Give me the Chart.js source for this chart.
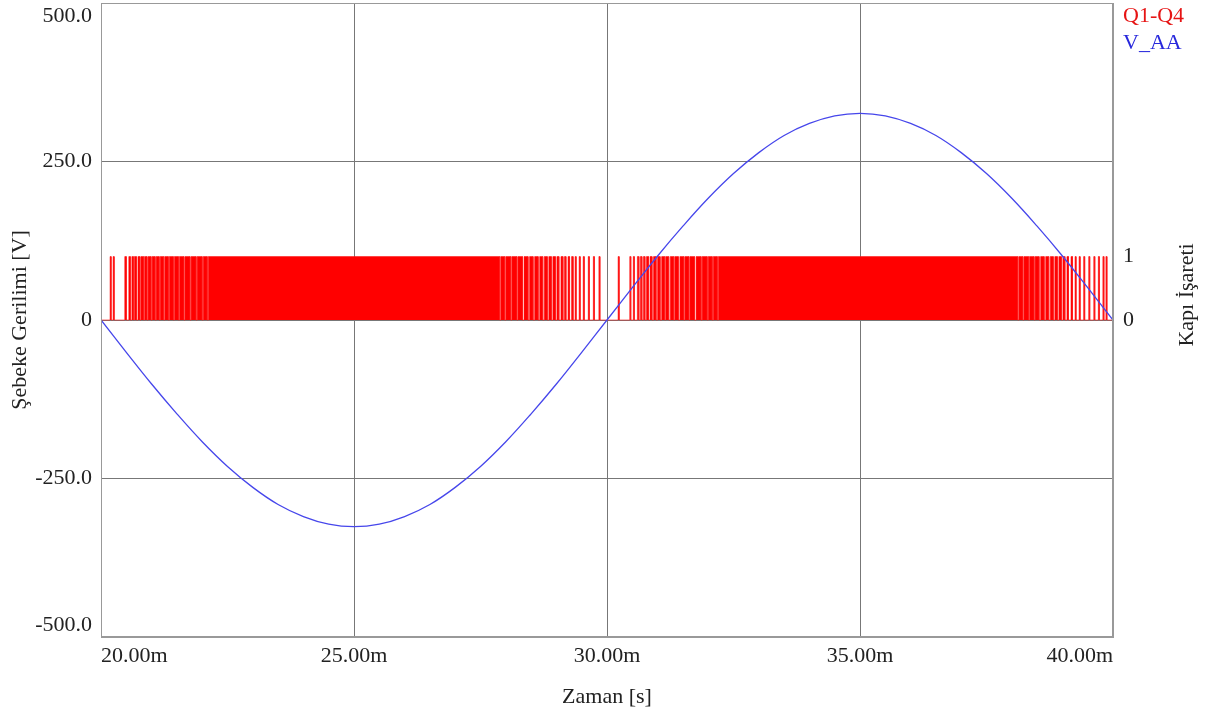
<!DOCTYPE html>
<html>
<head>
<meta charset="utf-8">
<script src="https://cdn.jsdelivr.net/npm/chart.js@4.4.1/dist/chart.umd.min.js"></script>
<style>
html, body { margin: 0; padding: 0; background: #fff; }
#wrap { width: 1215px; height: 722px; position: relative; }
</style>
</head>
<body>
<div id="wrap"><canvas id="myChart"></canvas></div>
<script>
// time axis in ms
const timeMs = [20, 20.5, 21, 21.5, 22, 22.5, 23, 23.5, 24, 24.5, 25, 25.5, 26, 26.5, 27, 27.5, 28, 28.5, 29, 29.5,
                30, 30.5, 31, 31.5, 32, 32.5, 33, 33.5, 34, 34.5, 35, 35.5, 36, 36.5, 37, 37.5, 38, 38.5, 39, 39.5, 40];
// V_AA
const vAA = [0, -51, -101, -148, -192, -231, -264, -291, -310, -322, -326, -322, -310, -291, -264, -231, -192, -148, -101, -51,
             0, 51, 101, 148, 192, 231, 264, 291, 310, 322, 326, 322, 310, 291, 264, 231, 192, 148, 101, 51, 0];

// Q1-Q4 gate pulses (on / off times in ms)
const q14Start = [20.18, 20.24, 20.47, 20.55, 20.61, 20.66, 20.73, 20.79, 20.86, 20.93, 21.01, 21.09, 21.17, 21.26, 21.35,
                  21.45, 21.55, 21.66, 21.78, 21.90, 22.02, 22.12, 27.90, 28.00, 28.12, 28.24, 28.36, 28.47, 28.57, 28.67,
                  28.76, 28.85, 28.93, 29.01, 29.09, 29.16, 29.23, 29.30, 29.37, 29.45, 29.53, 29.63, 29.73, 29.84,
                  30.22, 30.45, 30.52, 30.60, 30.66, 30.72, 30.78, 30.85, 30.92, 31.00, 31.08, 31.16, 31.25, 31.34, 31.44,
                  31.54, 31.64, 31.76, 31.88, 32.00, 32.10, 32.20, 38.14, 38.24, 38.35, 38.46, 38.57, 38.67, 38.76, 38.85,
                  38.93, 39.01, 39.09, 39.17, 39.25, 39.33, 39.42, 39.52, 39.62, 39.71, 39.80, 39.86];
const q14End =   [20.20, 20.26, 20.50, 20.58, 20.64, 20.70, 20.77, 20.84, 20.91, 20.99, 21.07, 21.15, 21.24, 21.33, 21.43,
                  21.53, 21.64, 21.76, 21.88, 22.00, 22.10, 27.88, 27.98, 28.10, 28.22, 28.33, 28.44, 28.54, 28.64, 28.73,
                  28.82, 28.90, 28.98, 29.05, 29.13, 29.19, 29.26, 29.33, 29.39, 29.47, 29.55, 29.65, 29.75, 29.86,
                  30.24, 30.47, 30.54, 30.63, 30.69, 30.75, 30.82, 30.89, 30.97, 31.05, 31.14, 31.22, 31.32, 31.41, 31.52,
                  31.62, 31.73, 31.86, 31.98, 32.08, 32.18, 38.12, 38.22, 38.33, 38.44, 38.54, 38.64, 38.73, 38.82, 38.90,
                  38.98, 39.05, 39.12, 39.20, 39.27, 39.35, 39.44, 39.54, 39.64, 39.73, 39.82, 39.88];

const leftTicks = [-500, -250, 0, 250, 500];
const leftLabels = ['-500.0', '-250.0', '0', '250.0', '500.0'];
const rightTicks = [0, 1];

const FONT = '"Liberation Serif", "Times New Roman", serif';
const FSIZE = 22;
const TXT = '#222';

// build the step trace for the gate signal
const q14Points = [{ x: 20, y: 0 }];
for (let i = 0; i < q14Start.length; i++) {
     q14Points.push({ x: q14Start[i], y: 0 }, { x: q14Start[i], y: 1 },
                    { x: q14End[i], y: 1 }, { x: q14End[i], y: 0 });
}
q14Points.push({ x: 40, y: 0 });

const vPoints = timeMs.map((t, i) => ({ x: t, y: vAA[i] }));

const extraText = {
     id: 'extraText',
     afterDraw(chart) {
          const ctx = chart.ctx;
          const area = chart.chartArea;
          const yScale = chart.scales.y;
          ctx.save();
          // plot frame
          ctx.strokeStyle = '#999';
          ctx.lineWidth = 1;
          ctx.strokeRect(Math.round(area.left) + 0.5, Math.round(area.top) + 0.5,
                         Math.round(area.right - area.left) - 1, Math.round(area.bottom - area.top) - 1);

          ctx.font = FSIZE + 'px ' + FONT;
          ctx.fillStyle = TXT;
          // left tick labels, end ones pulled inside like the original
          ctx.textAlign = 'right';
          ctx.textBaseline = 'middle';
          leftTicks.forEach((v, i) => {
               let py = yScale.getPixelForValue(v);
               py = Math.min(Math.max(py, area.top + 13), area.bottom - 12);
               ctx.fillText(leftLabels[i], area.left - 9, py);
          });

          // legend text
          ctx.textAlign = 'left';
          chart.data.datasets.forEach((ds, i) => {
               ctx.fillStyle = ds.legendColor;
               ctx.fillText(ds.label, 1123, 16 + i * 27);
          });

          // right axis title (reads bottom to top)
          ctx.fillStyle = TXT;
          ctx.translate(1187, 295);
          ctx.rotate(-Math.PI / 2);
          ctx.textAlign = 'center';
          ctx.fillText('Kapı İşareti', 0, 0);
          ctx.restore();
     }
};

const config = {
     type: 'line',
     data: {
          datasets: [
               {
                    label: 'Q1-Q4',
                    data: q14Points,
                    yAxisID: 'y2',
                    borderColor: 'rgb(255, 20, 20)',
                    backgroundColor: 'rgb(255, 0, 0)',
                    legendColor: 'rgb(230, 20, 20)',
                    borderWidth: 0.6,
                    fill: 'origin',
                    pointRadius: 0,
                    tension: 0,
                    order: 1
               },
               {
                    label: 'V_AA',
                    data: vPoints,
                    yAxisID: 'y',
                    borderColor: 'rgb(70, 70, 235)',
                    legendColor: 'rgb(40, 40, 220)',
                    borderWidth: 1.3,
                    fill: false,
                    pointRadius: 0,
                    tension: 0.4,
                    order: 0
               }
          ]
     },
     options: {
          responsive: true,
          maintainAspectRatio: false,
          animation: false,
          layout: { padding: { top: 3, left: 0, right: 0, bottom: 0 } },
          plugins: { legend: { display: false }, tooltip: { enabled: false } },
          scales: {
               x: {
                    type: 'linear',
                    min: 20,
                    max: 40,
                    ticks: {
                         stepSize: 5,
                         align: 'inner',
                         padding: 6,
                         maxRotation: 0,
                         color: TXT,
                         font: { family: FONT, size: FSIZE },
                         callback: v => v.toFixed(2) + 'm'
                    },
                    grid: { color: '#777', drawTicks: false },
                    border: { color: '#999' },
                    title: {
                         display: true,
                         text: 'Zaman [s]',
                         color: TXT,
                         font: { family: FONT, size: FSIZE },
                         padding: { top: 0, bottom: 12 }
                    },
                    afterFit(s) { s.height = 85; s.paddingLeft = 0; s.paddingRight = 0; }
               },
               y: {
                    position: 'left',
                    min: -500,
                    max: 500,
                    afterBuildTicks(s) { s.ticks = leftTicks.map(v => ({ value: v })); },
                    ticks: { display: false },
                    grid: { color: '#777', drawTicks: false },
                    border: { color: '#999' },
                    title: {
                         display: true,
                         text: 'Şebeke Gerilimi [V]',
                         color: TXT,
                         font: { family: FONT, size: FSIZE },
                         padding: { top: 7, bottom: 0 }
                    },
                    afterFit(s) { s.width = 101; s.paddingTop = 0; s.paddingBottom = 0; }
               },
               y2: {
                    position: 'right',
                    min: -5,
                    max: 5,
                    afterBuildTicks(s) { s.ticks = rightTicks.map(v => ({ value: v })); },
                    ticks: {
                         padding: 10,
                         color: TXT,
                         font: { family: FONT, size: FSIZE },
                         callback: v => String(v)
                    },
                    grid: { display: false, drawTicks: false },
                    border: { color: '#999' },
                    afterFit(s) { s.width = 102; s.paddingTop = 0; s.paddingBottom = 0; }
               }
          }
     },
     plugins: [extraText]
};

const myChart = new Chart(document.getElementById('myChart'), config);
</script>
</body>
</html>
